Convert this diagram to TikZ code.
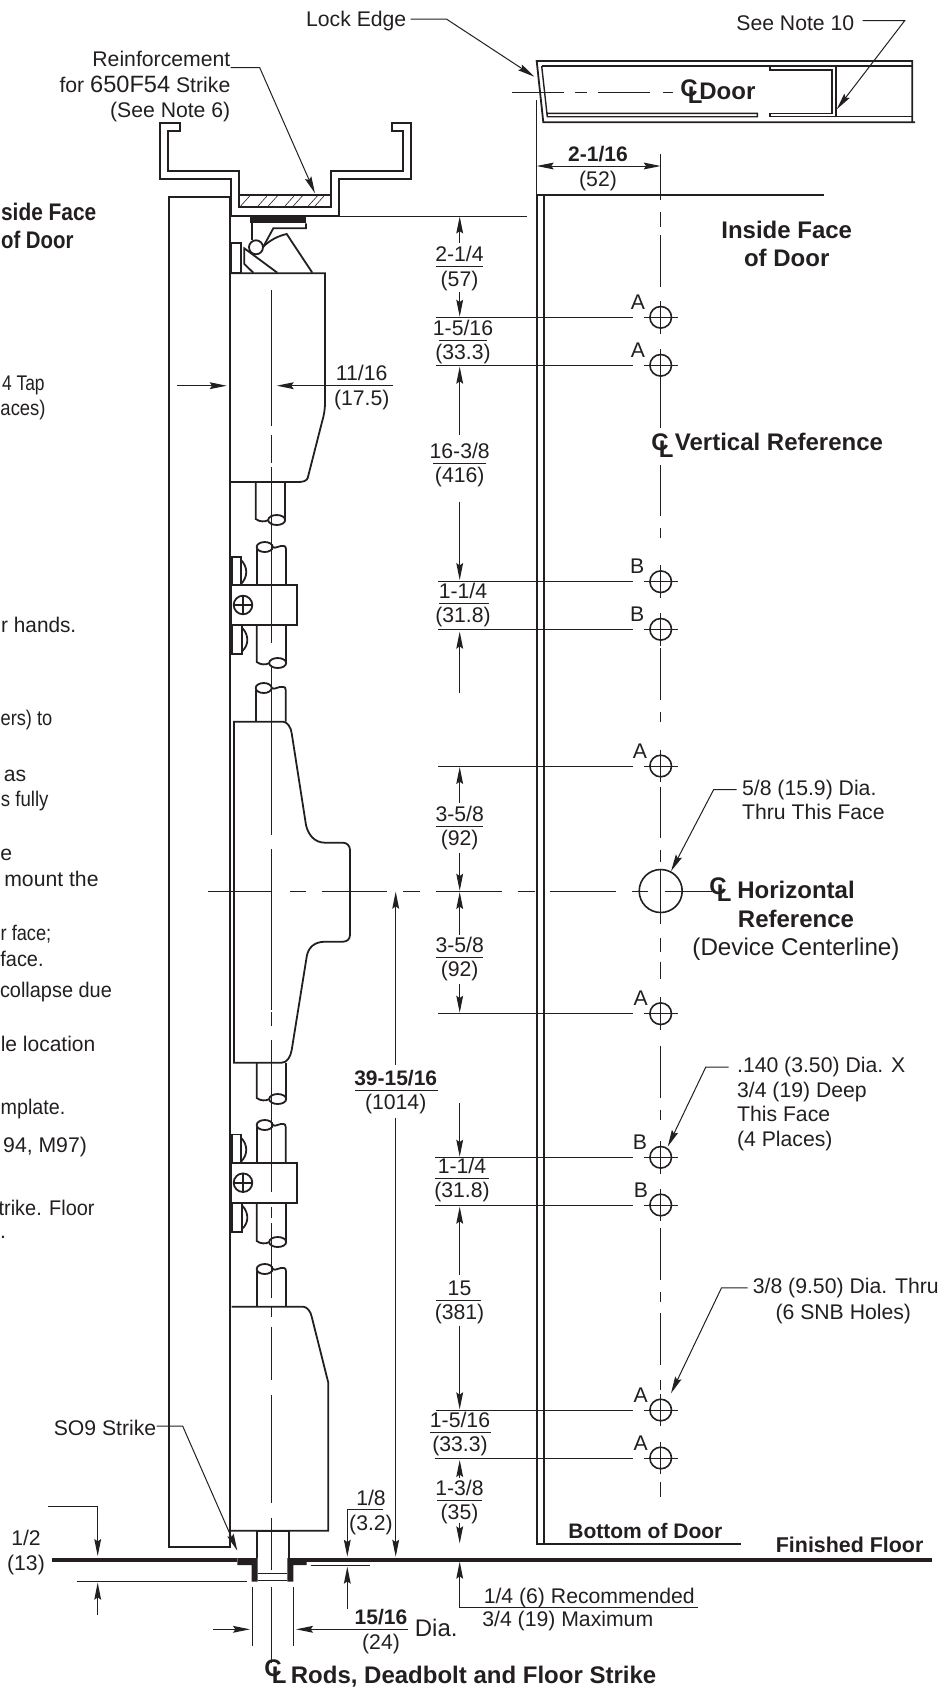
\documentclass[tikz,border=0pt]{standalone}
\usepackage{fontspec}
\setmainfont{Liberation Sans}
\usepackage{graphicx}
\usepackage{tikz}
\usetikzlibrary{arrows.meta, calc}
\definecolor{inkblack}{RGB}{35,31,32}
\newcommand{\clsym}{\makebox[0.85em][l]{\rlap{C}\raisebox{-0.3em}{\hspace{0.31em}L}}}

\begin{document}
\begin{tikzpicture}[
    x=0.5pt, y=-0.5pt,
    obj_line/.style={line width=0.9pt, draw=inkblack},
    thin_line/.style={line width=0.5pt, draw=inkblack},
    heavy_line/.style={line width=2pt, draw=inkblack},
    dim_arrow/.style={thin_line, -{Stealth[length=8.5pt, width=3.4pt, inset=1.2pt]}},
    label_text/.style={inner sep=0pt, text=inkblack, font=\fontsize{10.6}{13}\selectfont},
    big_text/.style={label_text, font=\fontsize{12.1}{14}\selectfont},
    bold_text/.style={label_text, font=\bfseries\fontsize{10.5}{13}\selectfont},
    head_text/.style={label_text, font=\bfseries\fontsize{12}{14.2}\selectfont},
    hole_mark/.style={circle, thin_line, line width=0.8pt, inner sep=0pt, minimum size=10.8pt}
]
    \useasboundingbox (0,0) rectangle (938,1688);

    % Cut off notes along the left edge
    \node[head_text, anchor=base east] (note_face) at (96.7,220) {\scalebox{0.87}[1]{side Face}};
    \node[head_text, anchor=base east] (note_door) at (74,248) {\scalebox{0.85}[1]{of Door}};
    \foreach \i/\x/\y/\s/\t in {1/45/390/0.82/{4 Tap}, 2/46/415/0.87/{aces)}, 3/76.7/632.7/0.98/{r hands.}, 4/52.7/725/0.86/{ers) to},
        5/26.7/781/1/{as}, 6/49/806/0.88/{s fully}, 7/12.5/860.7/1/{e}, 8/99/886/1/{mount the}, 9/51.7/940.7/0.86/{r face;},
        10/44/966/0.94/{face.}, 11/112.3/997.3/0.94/{collapse due}, 12/95.7/1051.7/0.99/{le location}, 13/65.7/1114/0.93/{mplate.},
        14/87.3/1152.7/1/{94, M97)}, 15/95/1215/0.94/{trike. Floor}, 16/6.5/1238.3/1/{.}}
        \node[label_text, anchor=base east] (note_\i) at (\x,\y) {\scalebox{\s}[1]{\t}};

    % Strike channel with reinforcement
    \draw[obj_line] (160,122.7) -- (160,178.7) -- (230.7,178.7) -- (230.7,216) -- (339,216) -- (339,178.7)
        -- (411,178.7) -- (411,122.7) -- (391.7,122.7) -- (391.7,130.7) -- (403.3,130.7) -- (403.3,170.7)
        -- (331.3,170.7) -- (331.3,207.3) -- (238.7,207.3) -- (238.7,170.7) -- (168.3,170.7) -- (168.3,131)
        -- (180,131) -- (180,122.7) -- cycle;
    \draw[obj_line] (238.7,194.7) -- (331.3,194.7);
    \foreach \x in {240.7, 258, 268.3, 285, 293.3, 308.3, 315}
        \draw[thin_line, line width=0.3pt] (\x,206) -- (\x+9,196);
    \draw[thin_line] (339,216) -- (527,216);

    % Frame stop on the left
    \draw[obj_line] (230,196.7) -- (169,196.7) -- (169,1546.7) -- (230,1546.7) -- (230,196.7);

    % Top latch
    \fill[inkblack] (250,216) rectangle (306,223.3);
    \draw[obj_line] (306,223.3) -- (306,228.3) -- (273.3,228.3) -- (263.3,246.7);
    \draw[obj_line] (251.7,223) -- (251.7,240);
    \draw[obj_line] (256,247.3) circle (7);
    \draw[obj_line] (263.3,246.7) .. controls (270,240) and (278,236) .. (286.7,234) -- (312.3,272.7);
    \draw[obj_line] (253.3,272.7) -- (244.3,264) -- (244.3,248.3) -- (277.3,272.7);
    \draw[obj_line] (230.7,243.3) rectangle (240.7,272.7);

    % Top case
    \draw[obj_line] (230,273.3) -- (325,273.3) -- (325,402) .. controls (325,410) and (324,415) .. (322,422)
        -- (307.7,478) .. controls (306.5,481) and (303,482) .. (298,482) -- (230,482);

    % Rods, broken at the bottom
    \foreach \xl/\xr/\ya/\yb in {255.7/285.3/482/519, 256.7/286/625/662, 256.7/286/1062.7/1098, 256.7/286/1202.3/1241} {
        \draw[obj_line] (\xl,\ya) -- (\xl,\yb) .. controls (\xl+4,\yb+3) and (\xl+9,\yb+3) .. (\xl+13,\yb+1);
        \draw[obj_line] (\xl+21,\yb+1) ellipse (8.5 and 5);
        \draw[obj_line] (\xr,\ya) -- (\xr,\yb);
    }
    % Rods, broken at the top
    \foreach \xl/\xr/\ya/\yb in {255.7/285.7/688/721.7, 256.7/286/547/585, 256.7/285.7/1125/1162.7, 256.7/286/1269/1306.7} {
        \draw[obj_line] (\xl+8,\ya) ellipse (8 and 5);
        \draw[obj_line] (\xl,\ya+2) -- (\xl,\yb);
        \draw[obj_line] (\xl+16,\ya) .. controls (\xl+19,\ya+2) and (\xl+21,\ya-1) .. (\xl+24,\ya-1)
            -- (\xr-2,\ya-1) .. controls (\xr-1,\ya-1) and (\xr,\ya) .. (\xr,\ya+2) -- (\xr,\yb);
    }

    % Rod guides
    \foreach \y in {585, 1162.7} {
        \draw[obj_line] (231,\y) rectangle (296.7,\y+40);
        \draw[obj_line] (243,\y+20) circle (9.3);
        \draw[obj_line] (233.7,\y+20) -- (252.3,\y+20);
        \draw[obj_line] (243,\y+10.7) -- (243,\y+29.3);
        \draw[obj_line] (231.7,\y) rectangle (241,\y-28.3);
        \draw[obj_line] (241,\y-25) .. controls (248,\y-18) and (248,\y-8) .. (241,\y-1);
        \draw[obj_line] (231.7,\y+40) rectangle (242.3,\y+69);
        \draw[obj_line] (242.3,\y+43) .. controls (249,\y+50) and (249,\y+60) .. (242.3,\y+66);
    }

    % Center case
    \draw[obj_line] (234,721.7) -- (283.3,721.7) .. controls (287,722) and (291,727) .. (291.7,733.3)
        -- (306,825) .. controls (308,834) and (314,842.7) .. (325,842.7) -- (343,842.7)
        .. controls (347,842.7) and (350,846) .. (350,850) -- (350,935)
        .. controls (350,939) and (347,941.7) .. (343,941.7) -- (325,941.7)
        .. controls (314,941.7) and (308,948) .. (306.7,956.7) -- (291.7,1050)
        .. controls (290.5,1057) and (287,1062.7) .. (281.7,1062.7) -- (234,1062.7) -- cycle;

    % Bottom case
    \draw[obj_line] (231.7,1306.7) -- (303.3,1306.7) .. controls (307,1307) and (310.5,1311) .. (311.7,1316.7)
        -- (328.3,1382.7) -- (328.3,1530.7) -- (230,1530.7);

    % Floor, strike and bolt
    \draw[heavy_line] (51.7,1559.7) -- (237.3,1559.7);
    \draw[heavy_line] (306,1559.7) -- (931.7,1559.7);
    \fill[inkblack] (237.3,1558) -- (257.7,1558) -- (257.7,1581.7) -- (251.7,1581.7) -- (251.7,1565) -- (237.3,1565) -- cycle;
    \fill[inkblack] (306.7,1558) -- (287.3,1558) -- (287.3,1581.7) -- (293.3,1581.7) -- (293.3,1565) -- (306.7,1565) -- cycle;
    \draw[obj_line] (256.7,1558) -- (256.7,1530.7) -- (288.7,1530.7) -- (288.7,1558);
    \draw[thin_line] (257.7,1573.3) -- (287.3,1573.3);
    \draw[obj_line] (257.7,1580.5) -- (287.3,1580.5);

    % Rod centerline
    \foreach \ya/\yb in {290/426, 435/463, 467/643, 665/835, 849/1010, 1012/1026, 1040/1192, 1207/1218, 1223/1298,
        1307/1317, 1327/1380, 1395/1503, 1518/1570, 1587/1663}
        \draw[thin_line, line width=0.6pt] (271.7,\ya) -- (271.7,\yb);

    % Horizontal reference line
    \foreach \xa/\xb in {207.7/271.7, 290/305.7, 321.7/386.7, 403/420, 436/501.7, 517.7/535, 550/616, 631.7/648.3, 665/711.7}
        \draw[thin_line] (\xa,891) -- (\xb,891);

    % Door section on top
    \draw[obj_line] (536.7,61) -- (912.3,61) -- (912.3,122.3) -- (915,122.3) -- (543.3,122.3) -- cycle;
    \draw[thin_line, line width=0.7pt] (541.7,66) -- (912.3,66);
    \draw[thin_line, line width=0.7pt] (541.7,66) -- (547.3,116.7) -- (757.3,116.7) -- (757.3,113.3) -- (547,113.3);
    \draw[thin_line, line width=0.7pt] (770,116.7) -- (912.3,116.7);
    \draw[thin_line, line width=0.7pt] (770,113.3) -- (832,113.3) -- (832,70) -- (770,70) -- (770,66);
    \draw[thin_line, line width=0.7pt] (770,113.3) -- (770,116.7);
    \draw[obj_line] (835.7,66) -- (835.7,116.7);
    \foreach \xa/\xb in {511.7/564, 575/587.3, 598.3/650, 662.7/673.3}
        \draw[thin_line] (\xa,92.3) -- (\xb,92.3);
    \node[head_text, anchor=base west] (cl_door) at (680,96.7) {\clsym};
    \node[head_text, anchor=base west] (door_label) at (699,99.3) {Door};
    \draw[thin_line] (536.7,100) -- (536.7,195);

    % Door face
    \draw[obj_line] (824.3,195.3) -- (536.7,195.3) -- (536.7,1544) -- (740.6,1544);
    \draw[obj_line] (543.8,195.3) -- (543.8,1544);
    \node[head_text, anchor=base] (inside_face) at (786.7,238.3) {Inside Face};
    \node[head_text, anchor=base] (inside_door) at (786.7,266.7) {of Door};
    \node[bold_text, anchor=base west] (bottom_door) at (568,1538) {Bottom of Door};
    \node[bold_text, anchor=base west, font=\bfseries\fontsize{10.7}{13}\selectfont] (finished_floor) at (775.5,1552.7) {Finished Floor};

    % Door centerline
    \foreach \ya/\yb in {154.3/200, 211.7/226.7, 235/286.7, 380/428.3, 465/516, 528/538, 648/700, 712/722, 786.7/838.3,
        850/861.7, 938/951.7, 961.7/979.3, 1046/1098, 1110/1120, 1228/1280, 1292/1302, 1313/1365, 1380/1390, 1482/1497}
        \draw[thin_line] (660.7,\ya) -- (660.7,\yb);

    % Holes
    \foreach \i/\y/\t/\lx/\ex in {1/317.3/A/638/436, 2/365.3/A/638/436, 3/581.7/B/637.3/438, 4/629.3/B/637.3/438, 5/766/A/640/438,
        6/1013.7/A/640.7/438, 7/1157.3/B/640/435, 8/1205/B/641/435, 9/1410/A/640.8/436, 10/1458/A/640.8/434.5} {
        \node[hole_mark] (hole_\i) at (660.7,\y) {};
        \draw[thin_line] (643.7,\y) -- (677.7,\y);
        \draw[thin_line] (660.7,\y-16.3) -- (660.7,\y+16.3);
        \draw[thin_line] (\ex,\y) -- (633.3,\y);
        \node[label_text, anchor=base] (hole_label_\i) at (\lx,\y-8) {\t};
    }
    \node[hole_mark, minimum size=21.5pt] (hole_big) at (660.7,891) {};
    \draw[thin_line] (660.7,870) -- (660.7,924);

    % Stacked dimensions
    \foreach \i/\x/\y/\xa/\xb/\nt/\dt in {1/459.5/266.7/436/483/{2-1/4}/{(57)}, 2/463/340/439.3/486.7/{1-5/16}/{(33.3)},
        3/459.7/463/433.3/485.7/{16-3/8}/{(416)}, 4/463/603.3/439.3/488.9/{1-1/4}/{(31.8)}, 5/459.7/826/436/483/{3-5/8}/{(92)},
        6/459.7/957.3/436/483/{3-5/8}/{(92)}, 7/462/1178.3/435/489/{1-1/4}/{(31.8)}, 8/459.5/1300/436/480.6/{15}/{(381)},
        9/460/1432.3/430/491/{1-5/16}/{(33.3)}, 10/459.5/1500/437/482/{1-3/8}/{(35)}} {
        \node[label_text, anchor=base] (dim_num_\i) at (\x,\y-5) {\nt};
        \node[label_text, anchor=base] (dim_den_\i) at (\x,\y+19.5) {\dt};
        \draw[thin_line] (\xa,\y) -- (\xb,\y);
    }
    \foreach \ya/\yb in {242.7/216.5, 291.7/316.7, 435/366.7, 501.7/580, 693.3/631.7, 802.7/767, 852.7/890.7, 935/892, 984.3/1012.7,
        1103.3/1156.7, 1275/1206.7, 1325.7/1409.3, 1478/1460, 1523.3/1543.3}
        \draw[dim_arrow] (459.7,\ya) -- (459.7,\yb);
    \draw[dim_arrow] (697.8,1607.3) -- (459.7,1607.3) -- (459.7,1561.7);
    \node[label_text, anchor=base west] (floor_rec) at (483.4,1603) {1/4 (6) Recommended};
    \node[label_text, anchor=base west] (floor_max) at (482,1626.7) {3/4 (19) Maximum};

    % 2-1/16 door dimension
    \draw[dim_arrow, {Stealth[length=8.5pt, width=3.4pt, inset=1.2pt]}-{Stealth[length=8.5pt, width=3.4pt, inset=1.2pt]}] (536.7,166) -- (660.7,166);
    \node[bold_text, anchor=base] (dim_door_num) at (598,161) {2-1/16};
    \node[label_text, anchor=base] (dim_door_den) at (598,186) {(52)};

    % 39-15/16 overall dimension
    \node[bold_text, anchor=base] (dim_all_num) at (395.7,1085) {39-15/16};
    \node[label_text, anchor=base] (dim_all_den) at (395.7,1109.5) {(1014)};
    \draw[thin_line] (355,1090) -- (438,1090);
    \draw[dim_arrow] (395.7,1065) -- (395.7,891.7);
    \draw[dim_arrow] (395.7,1118) -- (395.7,1556.7);

    % 11/16 backset
    \draw[dim_arrow] (177.3,385.7) -- (226.7,385.7);
    \draw[dim_arrow] (393.3,385.7) -- (276.7,385.7);
    \node[label_text, anchor=base] (dim_back_num) at (361.7,380.7) {11/16};
    \node[label_text, anchor=base] (dim_back_den) at (361.7,405.2) {(17.5)};

    % 1/8 gap
    \draw[dim_arrow] (383,1509.3) -- (347.3,1509.3) -- (347.3,1556.7);
    \draw[dim_arrow] (347.3,1609) -- (347.3,1566.7);
    \draw[thin_line] (310.7,1565) -- (370,1565);
    \node[label_text, anchor=base] (dim_gap_num) at (371,1505) {1/8};
    \node[label_text, anchor=base] (dim_gap_den) at (371,1530) {(3.2)};

    % 1/2 strike depth
    \draw[dim_arrow] (48.3,1506) -- (97.7,1506) -- (97.7,1556);
    \draw[dim_arrow] (97.7,1615) -- (97.7,1582.7);
    \draw[thin_line] (76.7,1581.7) -- (246.7,1581.7);
    \node[label_text, anchor=base] (dim_depth_num) at (26,1545) {1/2};
    \node[label_text, anchor=base] (dim_depth_den) at (26,1570) {(13)};

    % 15/16 diameter
    \draw[thin_line] (252,1586.7) -- (252,1646);
    \draw[thin_line] (293.7,1586.7) -- (293.7,1646);
    \draw[dim_arrow] (213.3,1629.3) -- (250,1629.3);
    \draw[dim_arrow] (408.3,1629.3) -- (296,1629.3);
    \node[bold_text, anchor=base] (dim_bore_num) at (381,1624.3) {15/16};
    \node[label_text, anchor=base] (dim_bore_den) at (381,1649) {(24)};
    \node[label_text, anchor=base west, font=\fontsize{12}{14}\selectfont] (dim_bore_dia) at (414.5,1636.7) {Dia.};

    % Centerline titles
    \node[head_text, anchor=base west] (cl_rods) at (264,1676.7) {\clsym};
    \node[head_text, anchor=base west] (rods_label) at (290.5,1683) {Rods, Deadbolt and Floor Strike};
    \node[head_text, anchor=base west] (cl_vert) at (651,450) {\clsym};
    \node[head_text, anchor=base west] (vert_label) at (674.5,450.7) {Vertical Reference};
    \node[head_text, anchor=base west] (cl_horz) at (709,894.3) {\clsym};
    \node[head_text, anchor=base] (horz_label) at (796,898.3) {Horizontal};
    \node[head_text, anchor=base] (horz_label_b) at (796,927.3) {Reference};
    \node[big_text, anchor=base] (horz_label_c) at (796,955.7) {(Device Centerline)};

    % Callouts with leaders
    \node[label_text, anchor=base east] (lock_edge) at (406.7,26.7) {Lock Edge};
    \coordinate (lock_tip) at (534.3,76.7);
    \draw[dim_arrow] (lock_edge.east) ++(2pt,1pt) -- ++(36,0) -- (lock_tip);

    \node[label_text, anchor=base east] (reinf_a) at (230.7,66) {Reinforcement};
    \node[label_text, anchor=base east] (reinf_b) at (230.7,92) {for {\fontsize{11.8}{14}\selectfont 650F54} Strike};
    \node[label_text, anchor=base east] (reinf_c) at (230.7,117.3) {(See Note 6)};
    \coordinate (reinf_tip) at (315,193.3);
    \draw[dim_arrow] (reinf_a.south east) ++(0,-0.5pt) -- ++(29,0) -- (reinf_tip);

    \node[label_text, anchor=base west] (see_note) at (736,30) {See Note 10};
    \coordinate (see_tip) at (836.7,109.3);
    \draw[dim_arrow] (see_note.east) ++(4pt,1pt) -- ++(42,0) -- (see_tip);

    \node[label_text, anchor=base west] (thru_a) at (741.7,795) {5/8 (15.9) Dia.};
    \node[label_text, anchor=base west] (thru_b) at (741.7,819) {Thru This Face};
    \draw[dim_arrow] (thru_a.west) ++(-2.5pt,0) -- ++(-23,0) -- (hole_big);

    \node[label_text, anchor=base west] (deep_a) at (736.7,1072.7) {.140 (3.50) Dia. X};
    \node[label_text, anchor=base west] (deep_b) at (736.7,1097.3) {3/4 (19) Deep};
    \node[label_text, anchor=base west] (deep_c) at (736.7,1121.7) {This Face};
    \node[label_text, anchor=base west] (deep_d) at (736.7,1146.7) {(4 Places)};
    \coordinate (deep_tip) at (667.7,1146.7);
    \draw[dim_arrow] (deep_a.west) ++(-4pt,0) -- ++(-23,0) -- (deep_tip);

    \node[label_text, anchor=base west] (snb_a) at (752.5,1293.3) {3/8 (9.50) Dia. Thru};
    \node[label_text, anchor=base] (snb_b) at (843.3,1319.3) {(6 SNB Holes)};
    \coordinate (snb_tip) at (671,1393.3);
    \draw[dim_arrow] (snb_a.west) ++(-2.5pt,0) -- ++(-26,0) -- (snb_tip);

    \node[label_text, anchor=base east] (so9_strike) at (156.7,1435.7) {SO9 Strike};
    \coordinate (so9_tip) at (237.3,1550.7);
    \draw[dim_arrow] (so9_strike.east) ++(0pt,1pt) -- ++(26,0) -- (so9_tip);

\end{tikzpicture}
\end{document}
